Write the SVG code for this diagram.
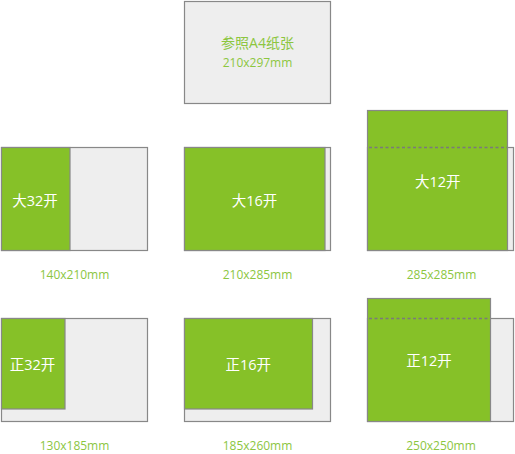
<svg xmlns="http://www.w3.org/2000/svg" width="515" height="454" viewBox="0 0 515 454">
<style>
.paper{fill:#eeeeee;stroke:#888888;stroke-width:1.2}
.cut{fill:#86c128;stroke:#888888;stroke-width:1.2}
.dash{stroke:#7a7a7a;stroke-width:1.4;stroke-dasharray:3 2.5;fill:none}
.in{font-family:"Open Sans","Noto Sans CJK SC",sans-serif;font-size:14.5px;fill:#ffffff;text-anchor:middle}
.lbl{font-family:"Open Sans","Noto Sans CJK SC",sans-serif;font-size:12px;fill:#8cc63f;text-anchor:middle}
.a4{font-family:"Open Sans","Noto Sans CJK SC",sans-serif;font-size:14px;fill:#8cc63f;text-anchor:middle}
</style>
<rect width="515" height="454" fill="#ffffff"/>
<g id="a4">
<rect class="paper" x="184.5" y="1.5" width="146" height="102"/>
<text class="a4" x="257.5" y="48">参照A4纸张</text>
<text class="lbl" x="257.5" y="67">210x297mm</text>
</g>
<g id="da32">
<rect class="paper" x="1.5" y="147.5" width="146" height="103"/>
<rect class="cut" x="1.5" y="147.5" width="68.5" height="103"/>
<text class="in" x="35" y="206">大32开</text>
<text class="lbl" x="74.5" y="279">140x210mm</text>
</g>
<g id="da16">
<rect class="paper" x="184.5" y="147.5" width="146" height="103"/>
<rect class="cut" x="184.5" y="147.5" width="140.5" height="103"/>
<text class="in" x="254.5" y="205.5">大16开</text>
<text class="lbl" x="257.5" y="279">210x285mm</text>
</g>
<g id="da12">
<rect class="paper" x="367.5" y="147.5" width="146" height="103"/>
<rect class="cut" x="367.5" y="110.5" width="140" height="140"/>
<text class="in" x="437.8" y="186.5">大12开</text>
<text class="lbl" x="441.5" y="279">285x285mm</text>
</g>
<g id="zheng32">
<rect class="paper" x="1.5" y="318.5" width="146" height="103"/>
<rect class="cut" x="1.5" y="318.5" width="63.5" height="90.5"/>
<text class="in" x="32.5" y="370">正32开</text>
<text class="lbl" x="74.5" y="450">130x185mm</text>
</g>
<g id="zheng16">
<rect class="paper" x="184.5" y="318.5" width="146" height="103"/>
<rect class="cut" x="184.5" y="318.5" width="128" height="90.5"/>
<text class="in" x="248.3" y="370">正16开</text>
<text class="lbl" x="257.5" y="450">185x260mm</text>
</g>
<g id="zheng12">
<rect class="paper" x="367.5" y="318.5" width="146" height="103"/>
<rect class="cut" x="367.5" y="298.5" width="123" height="123"/>
<text class="in" x="429" y="366">正12开</text>
<text class="lbl" x="441" y="450">250x250mm</text>
</g>
<g id="connectors">
<line class="dash" x1="369" y1="147.5" x2="507" y2="147.5"/>
<line class="dash" x1="369" y1="318.5" x2="490" y2="318.5"/>
</g>
</svg>
